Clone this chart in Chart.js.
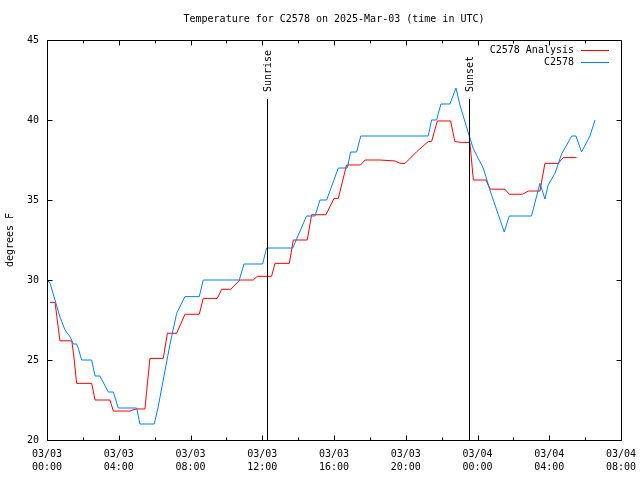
<!DOCTYPE html>
<html>
<head>
<meta charset="utf-8">
<script src="https://cdn.jsdelivr.net/npm/chart.js@4.4.1/dist/chart.umd.min.js"></script>
<style>
html,body{margin:0;padding:0;background:#fff;}
canvas{display:block;}
</style>
</head>
<body>
<canvas id="c" width="640" height="480"></canvas>
<script>
// ---- data (hours since 2025-03-03 00:00 UTC) ----
const chartTitle = 'Temperature for C2578 on 2025-Mar-03 (time in UTC)';
const yAxisTitle = 'degrees F';
const analysisLabel = 'C2578 Analysis';
const obsLabel = 'C2578';

const analysisHours = [0.17,0.45,0.55,0.63,0.72,1.38,1.5,1.65,2.49,2.68,3.51,3.70,4.63,4.75,5.0,5.46,5.56,5.74,6.48,6.71,7.23,7.69,8.49,8.71,9.49,9.74,10.24,10.76,11.5,11.72,12.52,12.71,13.51,13.73,14.51,14.75,15.55,16.0,16.24,16.7,17.48,17.73,18.56,19.4,19.68,19.96,20.61,21.25,21.44,21.76,22.5,22.74,23.11,23.48,23.58,23.77,24.47,24.7,25.53,25.77,26.51,26.83,27.48,27.76,28.5,28.78,29.52];
const analysisTemps = [28.6,28.6,27.7,27.0,26.2,26.2,25.2,23.54,23.54,22.5,22.5,21.81,21.81,21.87,21.94,21.94,23.1,25.1,25.1,26.67,26.67,27.86,27.86,28.85,28.85,29.42,29.42,30.0,30.0,30.23,30.23,31.04,31.04,32.5,32.5,34.08,34.08,35.1,35.1,37.19,37.19,37.5,37.5,37.44,37.29,37.29,38.02,38.65,38.65,39.94,39.94,38.65,38.6,38.6,38.54,36.25,36.25,35.68,35.67,35.36,35.36,35.56,35.56,37.29,37.29,37.65,37.65];

const obsHours = [0,0.17,0.5,0.72,1.0,1.28,1.47,1.65,1.74,1.93,2.49,2.68,2.95,3.42,3.70,3.97,5.0,5.18,5.98,6.2,6.48,6.86,7.23,7.69,8.49,8.71,10.72,10.98,12.02,12.24,13.7,14.47,14.94,15.22,15.59,16.24,16.74,16.93,17.26,17.49,21.25,21.44,21.72,21.96,22.46,22.8,23.02,23.54,23.77,24.04,24.32,24.69,25.49,25.77,27.01,27.48,27.76,27.94,28.32,28.69,29.25,29.49,29.8,30.27,30.55];
const obsTemps = [30.0,29.8,28.54,27.7,26.88,26.46,26.0,26.0,25.75,25.0,25.0,24.0,24.0,23.0,23.0,22.0,22.0,21.0,21.0,22.08,23.75,26.0,27.92,28.96,28.96,30.0,30.0,31.0,31.0,32.0,32.0,34.0,34.0,35.0,35.0,37.0,37.0,38.0,38.0,39.0,39.0,40.0,40.0,41.0,41.0,42.0,40.94,39.0,38.2,37.6,37.0,35.63,33.0,34.0,34.0,36.04,35.06,35.94,36.67,37.88,39.0,39.0,38.0,39.0,40.0];

const xTickHours = [0,4,8,12,16,20,24,28,32];
const xTickDates = ['03/03','03/03','03/03','03/03','03/03','03/03','03/04','03/04','03/04'];
const xTickTimes = ['00:00','04:00','08:00','12:00','16:00','20:00','00:00','04:00','08:00'];

const sunEvents = ['Sunrise','Sunset'];
const sunHours = [12.25,23.53];

const FONT = "'DejaVu Sans Mono', monospace";

const toPts = (xs, ys) => xs.map((x, i) => ({x: x, y: ys[i]}));

const decor = {
  id: 'decor',
  afterDatasetsDraw(chart) {
    const ctx = chart.ctx;
    const a = chart.chartArea;
    const xs = chart.scales.x, ys = chart.scales.y;
    ctx.save();
    ctx.strokeStyle = '#000';
    ctx.lineWidth = 1;
    // frame
    const L = Math.round(a.left) + 0.5, R = Math.round(a.right) + 0.5;
    const T = Math.round(a.top) + 0.5, B = Math.round(a.bottom) + 0.5;
    ctx.beginPath();
    ctx.rect(L, T, R - L, B - T);
    ctx.stroke();
    // x ticks (inward, bottom & top)
    ctx.beginPath();
    xs.ticks.forEach(t => {
      const px = Math.round(xs.getPixelForValue(t.value)) + 0.5;
      const len = xTickHours.includes(t.value) ? 5 : 3;
      ctx.moveTo(px, B); ctx.lineTo(px, B - len);
      ctx.moveTo(px, T); ctx.lineTo(px, T + len);
    });
    ys.ticks.forEach(t => {
      const py = Math.round(ys.getPixelForValue(t.value)) + 0.5;
      ctx.moveTo(L, py); ctx.lineTo(L + 5, py);
      ctx.moveTo(R, py); ctx.lineTo(R - 5, py);
    });
    ctx.stroke();
    // sunrise / sunset
    ctx.font = '10px ' + FONT;
    ctx.fillStyle = '#000';
    sunEvents.forEach((name, i) => {
      const px = Math.round(xs.getPixelForValue(sunHours[i])) + 0.5;
      ctx.beginPath();
      ctx.moveTo(px, a.top + 59);
      ctx.lineTo(px, B);
      ctx.stroke();
      ctx.save();
      ctx.translate(px + 1, a.top + 52);
      ctx.rotate(-Math.PI / 2);
      ctx.textAlign = 'left';
      ctx.textBaseline = 'middle';
      ctx.fillText(name, 0, 0);
      ctx.restore();
    });
    // legend
    ctx.textAlign = 'right';
    ctx.textBaseline = 'middle';
    chart.data.datasets.forEach((ds, i) => {
      const y = a.top + 10 + i * 12;
      ctx.fillStyle = '#000';
      ctx.fillText(ds.label, a.right - 47, y);
      ctx.strokeStyle = ds.borderColor;
      ctx.beginPath();
      ctx.moveTo(a.right - 40, Math.round(y) + 0.5);
      ctx.lineTo(a.right - 12, Math.round(y) + 0.5);
      ctx.stroke();
    });
    // title
    ctx.fillStyle = '#000';
    ctx.textAlign = 'center';
    ctx.fillText(chartTitle, (a.left + a.right) / 2, 19);
    ctx.restore();
  }
};

new Chart(document.getElementById('c'), {
  type: 'line',
  data: {
    datasets: [
      {label: analysisLabel, data: toPts(analysisHours, analysisTemps), borderColor: '#ff0000', borderWidth: 1, pointRadius: 0, tension: 0, fill: false, order: 1},
      {label: obsLabel, data: toPts(obsHours, obsTemps), borderColor: '#0080ff', borderWidth: 1, pointRadius: 0, tension: 0, fill: false, order: 0}
    ]
  },
  options: {
    responsive: false,
    animation: false,
    layout: {padding: {top: 40, right: 19, left: 0, bottom: 0}},
    plugins: {legend: {display: false}, tooltip: {enabled: false}, title: {display: false}},
    scales: {
      x: {
        type: 'linear', min: 0, max: 32,
        grid: {display: false, drawTicks: false},
        border: {display: false},
        afterFit(s) { s.height = 40; s.paddingLeft = 0; s.paddingRight = 0; },
        ticks: {
          stepSize: 2, autoSkip: false, maxRotation: 0, minRotation: 0, padding: 8,
          color: '#000', font: {family: FONT, size: 10, lineHeight: 1.3},
          callback(v) {
            const i = xTickHours.indexOf(v);
            return i < 0 ? '' : [xTickDates[i], xTickTimes[i]];
          }
        }
      },
      y: {
        min: 20, max: 45,
        grid: {display: false, drawTicks: false},
        border: {display: false},
        afterFit(s) { s.width = 47; s.paddingTop = 0; s.paddingBottom = 0; },
        title: {display: true, text: yAxisTitle, color: '#000', font: {family: FONT, size: 10}, padding: {top: 4, bottom: 0}},
        ticks: {stepSize: 5, padding: 8, color: '#000', font: {family: FONT, size: 10}}
      }
    }
  },
  plugins: [decor]
});
</script>
</body>
</html>
